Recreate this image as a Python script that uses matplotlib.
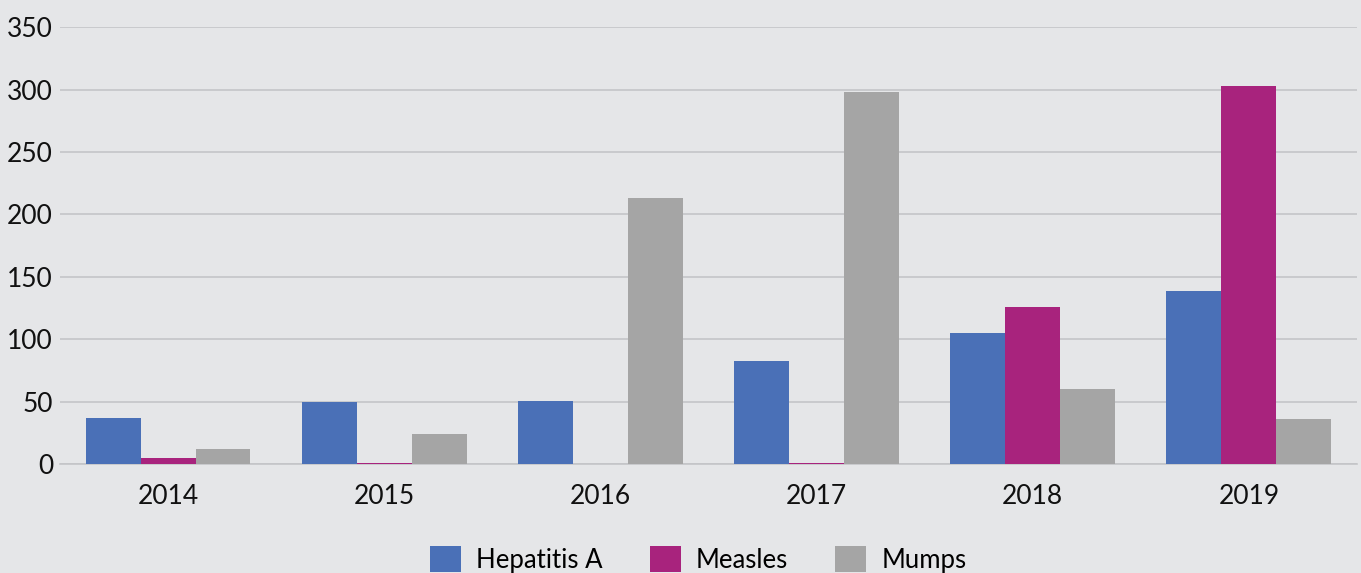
import matplotlib
matplotlib.use("Agg")
import matplotlib.pyplot as plt
import numpy as np

years = ["2014", "2015", "2016", "2017", "2018", "2019"]
hepatitis_a = [37, 50, 51, 83, 105, 139]
measles = [5, 1, 0, 1, 126, 303]
mumps = [12, 24, 213, 298, 60, 36]

series = [
    ("Hepatitis A", hepatitis_a, "#4a70b7"),
    ("Measles", measles, "#a8237d"),
    ("Mumps", mumps, "#a5a5a5"),
]

bg = "#e5e6e8"
plt.rcParams["font.family"] = ["Lato", "DejaVu Sans"]

fig = plt.figure(figsize=(13.61, 5.73), dpi=100, facecolor=bg)
ax = fig.add_axes([0.0441, 0.1897, 0.9529, 0.7631], facecolor=bg)

x = np.arange(len(years))
width = 0.254
for i, (name, vals, color) in enumerate(series):
    ax.bar(x + (i - 1) * width, vals, width, color=color, label=name,
           linewidth=0, zorder=3)

ax.set_xlim(-0.5, len(years) - 0.5)
ax.set_ylim(0, 350)
ax.set_yticks(np.arange(0, 351, 50))
ax.set_xticks(x)
ax.set_xticklabels(years)
ax.yaxis.grid(True, color="#c4c5c8", linewidth=1.2, zorder=0)
ax.set_axisbelow(True)
for side in ["top", "right", "left"]:
    ax.spines[side].set_visible(False)
ax.spines["bottom"].set_color("#c4c5c8")
ax.spines["bottom"].set_linewidth(1.2)
ax.tick_params(axis="both", length=0, labelsize=19, colors="#111111")
ax.tick_params(axis="y", pad=5)
ax.tick_params(axis="x", pad=14)

fig.legend(*ax.get_legend_handles_labels(), loc="center",
           bbox_to_anchor=(0.513, 0.024), ncol=3,
           frameon=False, fontsize=18.5, handlelength=1.2, handleheight=1.2,
           handletextpad=0.58, columnspacing=1.85, borderpad=0)

fig.savefig("out.png", dpi=100, facecolor=bg)
